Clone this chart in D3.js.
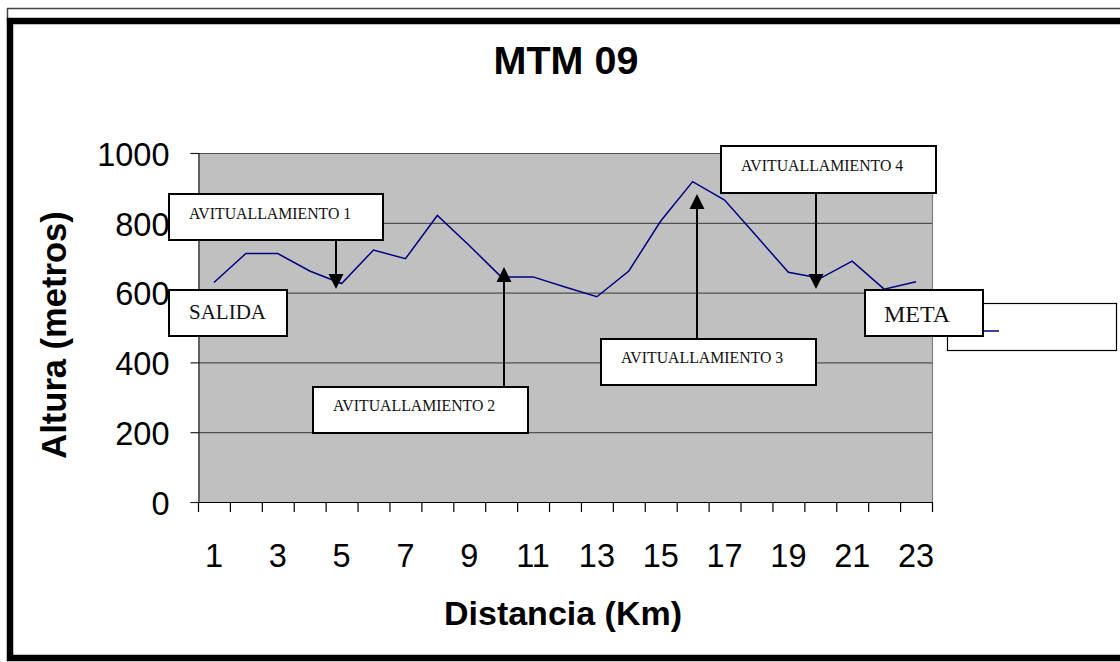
<!DOCTYPE html>
<html>
<head>
<meta charset="utf-8">
<script src="https://cdn.jsdelivr.net/npm/d3@7"></script>
<style>
  html, body { margin: 0; padding: 0; background: #fff; }
  svg { display: block; }
</style>
</head>
<body>
<svg id="chart" width="1120" height="662"></svg>
<script>
// ---- data ----
const categories = [1,2,3,4,5,6,7,8,9,10,11,12,13,14,15,16,17,18,19,20,21,22,23];
const altura = [629,712,712,662,626,722,697,821,735,645,645,616,588,662,805,918,865,762,658,641,690,610,631];
const yTicks = [0,200,400,600,800,1000];
const xTickLabels = [1,3,5,7,9,11,13,15,17,19,21,23];
const title = "MTM 09";
const xTitle = "Distancia (Km)";
const yTitle = "Altura (metros)";
const annotationTexts = ["AVITUALLAMIENTO 1","SALIDA","AVITUALLAMIENTO 2","AVITUALLAMIENTO 3","AVITUALLAMIENTO 4","META"];

// ---- layout (positions / styles only) ----
const plot = {left:198, right:932, top:153, bottom:502};
const boxes = [
  {x:168, y:193, w:216, h:48, tx:189, ty:219, fs:15.8, arrow:{x:336, from:241, to:289}},
  {x:168, y:289, w:120, h:48, tx:189, ty:319, fs:21},
  {x:312, y:386, w:217, h:48, tx:333, ty:411, fs:15.8, arrow:{x:504, from:386, to:267}},
  {x:600, y:338, w:217, h:48, tx:621, ty:363, fs:15.8, arrow:{x:697, from:338, to:194}},
  {x:720, y:145, w:217, h:49, tx:741, ty:171, fs:15.8, arrow:{x:816, from:194, to:289}},
  {x:864, y:289, w:120, h:48, tx:884, ty:322, fs:24}
];

const svg = d3.select("#chart");
const sans = "'Liberation Sans', Arial, sans-serif";
const serif = "'Liberation Serif', 'Times New Roman', serif";

// outer frame
svg.append("line").attr("x1",7).attr("x2",1120).attr("y1",8.5).attr("y2",8.5)
  .attr("stroke","#444").attr("stroke-width",1.5);
svg.append("line").attr("x1",7.5).attr("x2",7.5).attr("y1",8).attr("y2",21)
  .attr("stroke","#444").attr("stroke-width",1.5);
svg.append("rect").attr("x",10).attr("y",21).attr("width",1130).attr("height",637)
  .attr("fill","none").attr("stroke","#000").attr("stroke-width",6.5);

// scales
const x = d3.scaleBand().domain(categories).range([plot.left, plot.right]).paddingInner(0).paddingOuter(0);
const y = d3.scaleLinear().domain([0,1000]).range([plot.bottom, plot.top]);

// plot background
svg.append("rect").attr("x",plot.left).attr("y",plot.top)
  .attr("width",plot.right-plot.left).attr("height",plot.bottom-plot.top)
  .attr("fill","#c0c0c0");

// gridlines
svg.append("g").selectAll("line").data(yTicks.filter(d=>d>0)).join("line")
  .attr("x1",plot.left).attr("x2",plot.right)
  .attr("y1",d=>y(d)+0.5).attr("y2",d=>y(d)+0.5)
  .attr("stroke","#505050").attr("stroke-width",1.2);
// right border
svg.append("line").attr("x1",plot.right+0.5).attr("x2",plot.right+0.5)
  .attr("y1",plot.top).attr("y2",plot.bottom).attr("stroke","#808080").attr("stroke-width",1.2);

// y axis
const yAxis = d3.axisLeft(y).tickValues(yTicks).tickSize(8).tickPadding(21).tickFormat(d3.format("d"));
const gy = svg.append("g").attr("transform",`translate(${plot.left+0.5},0)`).call(yAxis);
gy.select(".domain").attr("stroke","#222").attr("stroke-width",1.2);
gy.selectAll(".tick line").attr("stroke","#222").attr("stroke-width",1.2);
gy.selectAll(".tick text").attr("font-family",sans).attr("font-size",32.5).attr("fill","#000")
  .attr("dy","0.38em");

// x axis: ticks at category boundaries
const bounds = categories.map(c=>x(c)).concat([x(categories[categories.length-1])+x.bandwidth()]);
const gx = svg.append("g");
gx.append("line").attr("x1",plot.left).attr("x2",plot.right+1)
  .attr("y1",plot.bottom+0.5).attr("y2",plot.bottom+0.5).attr("stroke","#000").attr("stroke-width",1.2);
gx.selectAll("line.tk").data(bounds).join("line").attr("class","tk")
  .attr("x1",d=>d+0.5).attr("x2",d=>d+0.5).attr("y1",plot.bottom).attr("y2",plot.bottom+10)
  .attr("stroke","#000").attr("stroke-width",1.2);
gx.selectAll("text").data(xTickLabels).join("text")
  .attr("x",d=>x(d)+x.bandwidth()/2).attr("y",567)
  .attr("text-anchor","middle").attr("font-family",sans).attr("font-size",32.5).attr("fill","#000")
  .text(d=>d);

// line
const line = d3.line().x((d,i)=>x(categories[i])+x.bandwidth()/2).y(d=>y(d));
svg.append("path").datum(altura).attr("d",line)
  .attr("fill","none").attr("stroke","#000080").attr("stroke-width",1.5);

// titles
svg.append("text").attr("x",566).attr("y",74).attr("text-anchor","middle")
  .attr("font-family",sans).attr("font-weight","bold").attr("font-size",39.5).text(title);
svg.append("text").attr("x",563).attr("y",625).attr("text-anchor","middle")
  .attr("font-family",sans).attr("font-weight","bold").attr("font-size",34).text(xTitle);
svg.append("text").attr("transform","translate(66,335) rotate(-90)").attr("text-anchor","middle")
  .attr("font-family",sans).attr("font-weight","bold").attr("font-size",34.5).text(yTitle);

// legend box (empty series name)
svg.append("rect").attr("x",947.5).attr("y",303.5).attr("width",169).attr("height",47)
  .attr("fill","#fff").attr("stroke","#000").attr("stroke-width",1.2);
svg.append("line").attr("x1",958).attr("x2",999).attr("y1",331).attr("y2",331)
  .attr("stroke","#000080").attr("stroke-width",1.5);

// annotations
const ann = svg.append("g");
boxes.forEach((b,i)=>{
  if (b.arrow) {
    const a = b.arrow, dir = a.to > a.from ? 1 : -1, hh = 15, hw = 7.5;
    ann.append("line").attr("x1",a.x).attr("x2",a.x).attr("y1",a.from).attr("y2",a.to - dir*hh)
      .attr("stroke","#000").attr("stroke-width",2);
    ann.append("path")
      .attr("d",`M${a.x},${a.to} L${a.x-hw},${a.to-dir*hh} L${a.x+hw},${a.to-dir*hh} Z`)
      .attr("fill","#000");
  }
  ann.append("rect").attr("x",b.x+1).attr("y",b.y+1).attr("width",b.w-2).attr("height",b.h-2)
    .attr("fill","#fff").attr("stroke","#000").attr("stroke-width",2);
  ann.append("text").attr("x",b.tx).attr("y",b.ty).attr("font-family",serif)
    .attr("font-size",b.fs).attr("fill","#111").text(annotationTexts[i]);
});
</script>
</body>
</html>
